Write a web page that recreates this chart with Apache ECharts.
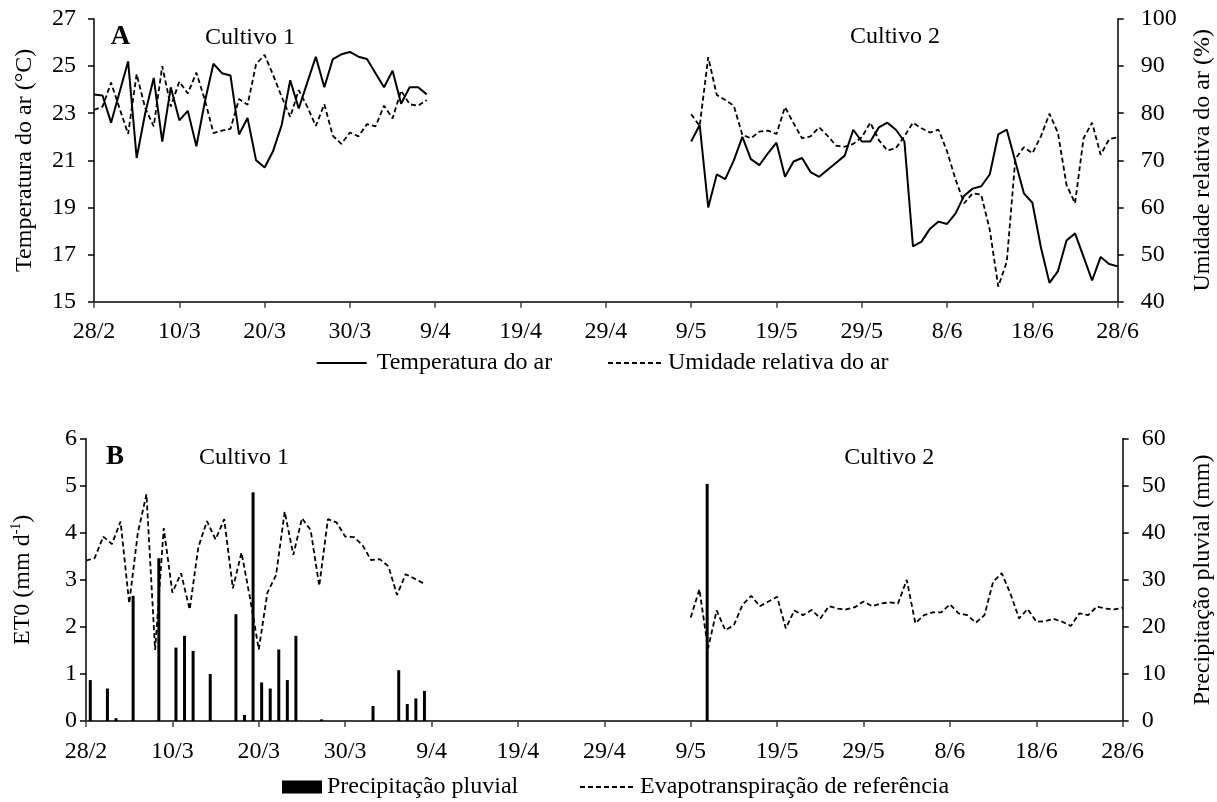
<!DOCTYPE html>
<html>
<head>
<meta charset="utf-8">
<script src="https://cdn.jsdelivr.net/npm/echarts@6/dist/echarts.min.js"></script>
<style>
  html, body { margin: 0; padding: 0; background: #fff; }
  #chart { width: 1217px; height: 802px; }
</style>
</head>
<body>
<div id="chart"></div>
<script>
// Date tick labels, one every 10 days from 28/2 to 28/6 (day 0 .. day 120)
const dateTicks = ['28/2', '10/3', '20/3', '30/3', '9/4', '19/4', '29/4', '9/5', '19/5', '29/5', '8/6', '18/6', '28/6'];
const dayCount = 121;

// First day (days after 28/2) of each growing cycle
const cycle1Start = 0;   // 28/2
const cycle2Start = 70;  // 9/5

// Air temperature (°C), daily
const tempCycle1 = [23.8, 23.75, 22.6, 23.9, 25.2, 21.1, 23.0, 24.5, 21.8, 24.1,
  22.7, 23.1, 21.6, 23.5, 25.1, 24.7, 24.6, 22.1, 22.8, 21.0,
  20.7, 21.4, 22.5, 24.4, 23.2, 24.3, 25.4, 24.1, 25.3, 25.5,
  25.6, 25.4, 25.3, 24.7, 24.1, 24.8, 23.4, 24.1, 24.1, 23.8];
const tempCycle2 = [21.8, 22.5, 19.0, 20.4, 20.2, 21.0, 22.0, 21.05, 20.8, 21.3,
  21.75, 20.3, 20.95, 21.1, 20.5, 20.3, 20.6, 20.9, 21.2, 22.3,
  21.8, 21.8, 22.4, 22.6, 22.3, 21.8, 17.35, 17.55, 18.1, 18.4,
  18.3, 18.75, 19.5, 19.8, 19.9, 20.4, 22.1, 22.3, 20.95, 19.6,
  19.2, 17.3, 15.8, 16.3, 17.6, 17.9, 16.9, 15.9, 16.9, 16.6, 16.5];

// Relative humidity (%), daily
const rhCycle1 = [80.7, 81.4, 86.5, 81.0, 75.6, 88.3, 81.1, 77.2, 90.0, 81.4,
  86.7, 84.2, 88.6, 82.8, 75.8, 76.3, 76.7, 83.0, 81.8, 90.4,
  92.4, 88.1, 83.5, 79.2, 84.9, 81.4, 77.3, 81.9, 75.2, 73.5,
  75.9, 75.1, 77.7, 77.2, 81.6, 78.9, 84.8, 81.9, 81.6, 82.8];
const rhCycle2 = [79.8, 77.3, 91.9, 83.9, 82.8, 81.6, 75.4, 74.7, 76.1, 76.3,
  75.6, 81.3, 77.9, 74.7, 75.1, 77.0, 75.2, 73.1, 72.9, 73.5,
  74.9, 78.0, 74.3, 72.1, 72.6, 75.1, 78.0, 76.8, 75.9, 76.5,
  71.9, 65.9, 60.9, 63.0, 62.7, 55.3, 43.2, 48.5, 70.3, 72.8,
  71.5, 75.1, 79.9, 75.8, 64.8, 60.9, 74.7, 78.0, 71.2, 74.5, 74.9];

// Reference evapotranspiration ET0 (mm/day), daily
const et0Cycle1 = [3.41, 3.46, 3.92, 3.76, 4.24, 2.50, 4.0, 4.82, 1.51, 4.10,
  2.73, 3.14, 2.37, 3.69, 4.25, 3.86, 4.29, 2.82, 3.58, 2.6,
  1.52, 2.73, 3.10, 4.45, 3.53, 4.31, 4.06, 2.87, 4.29, 4.22,
  3.92, 3.91, 3.74, 3.42, 3.44, 3.29, 2.68, 3.12, 3.03, 2.93];
const et0Cycle2 = [2.20, 2.80, 1.54, 2.35, 1.93, 2.04, 2.47, 2.66, 2.44, 2.54,
  2.64, 1.97, 2.35, 2.25, 2.36, 2.18, 2.44, 2.39, 2.37, 2.42,
  2.54, 2.44, 2.50, 2.52, 2.50, 3.00, 2.08, 2.25, 2.31, 2.31,
  2.48, 2.29, 2.25, 2.09, 2.25, 2.96, 3.14, 2.71, 2.18, 2.38,
  2.11, 2.12, 2.17, 2.11, 2.02, 2.29, 2.25, 2.43, 2.39, 2.37, 2.41];

// Rainfall (mm): day index after 28/2 and daily total
const rainDays = [0, 2, 3, 5, 8, 10, 11, 12, 14, 17, 18, 19, 20, 21, 22, 23, 24, 27, 33, 36, 37, 38, 39, 72];
const rainMm = [8.7, 6.9, 0.6, 26.6, 34.6, 15.6, 18.1, 14.9, 10.0, 22.7, 1.3, 48.6, 8.2, 6.9, 15.2, 8.7, 18.1, 0.35, 3.2, 10.8, 3.6, 4.8, 6.4, 50.4];

const FONT = '"Liberation Serif", "Times New Roman", serif';
const INK = '#000';
const AXIS = '#404040';
const DASH = [5, 3];

function series(start, values) {
  return values.map((v, i) => [start + i, v]);
}

const dayCategories = Array.from({ length: dayCount }, (_, i) => String(i));

// Legend swatches: a plain stroke and a row of short dashes
const solidIcon = 'path://M0,0h50v2h-50z';
let dashedIcon = 'path://';
for (let i = 0; i < 7; i++) dashedIcon += 'M' + (i * 8) + ',0h5v2h-5z';

const tickText = { color: INK, fontFamily: FONT, fontSize: 24 };
const nameText = { color: INK, fontFamily: FONT, fontSize: 24 };

function dateAxis(gridIndex, margin) {
  return {
    type: 'value', gridIndex, min: 0, max: 120, interval: 10,
    axisLine: { lineStyle: { color: AXIS, width: 2 } },
    axisTick: { length: 6, lineStyle: { color: AXIS, width: 1.5 } },
    axisLabel: Object.assign({ margin, formatter: v => dateTicks[Math.round(v / 10)] }, tickText),
    splitLine: { show: false }
  };
}

function valueAxis(opts) {
  return Object.assign({
    type: 'value',
    nameLocation: 'middle',
    nameRotate: 90,
    nameTextStyle: nameText,
    axisLine: { show: true, lineStyle: { color: INK, width: 1.5 } },
    axisTick: { show: true, length: 6, lineStyle: { color: INK, width: 1.5 } },
    splitLine: { show: false }
  }, opts, { axisLabel: Object.assign({}, tickText, opts.axisLabel || {}) });
}

const solid = { color: INK, width: 2, type: 'solid' };
const dashed = { color: INK, width: 1.8, type: DASH };

function lineSeries(name, xAxisIndex, yAxisIndex, data, lineStyle) {
  return {
    name, type: 'line', xAxisIndex, yAxisIndex, data,
    symbol: 'none', lineStyle, itemStyle: { color: INK }, silent: true
  };
}

function legend(name, left, top, icon, width, height, textPad) {
  return {
    data: [{ name, icon }], left, top, padding: 0,
    itemWidth: width, itemHeight: height,
    itemStyle: { color: INK, borderWidth: 0 },
    textStyle: { color: INK, fontFamily: FONT, fontSize: 24, lineHeight: 26, padding: [0, 0, 0, textPad] },
    selectedMode: false
  };
}

function label(text, x, y, bold) {
  return {
    type: 'text', x, y,
    style: {
      text, fill: INK,
      font: (bold ? 'bold 27px ' : '24px ') + FONT,
      align: 'left', verticalAlign: 'middle'
    }
  };
}

const option = {
  animation: false,
  backgroundColor: '#fff',
  grid: [
    { left: 94, top: 19, right: 99.3, bottom: 500.3, outerBoundsMode: 'none', containLabel: false },
    { left: 86, top: 438.7, right: 94.3, bottom: 81, outerBoundsMode: 'none', containLabel: false }
  ],
  xAxis: [
    dateAxis(0, 18),
    dateAxis(1, 19),
    { type: 'category', gridIndex: 1, data: dayCategories, boundaryGap: true, show: false }
  ],
  yAxis: [
    valueAxis({ gridIndex: 0, position: 'left', min: 15, max: 27, interval: 2,
      name: 'Temperatura do ar (°C)', nameGap: 57, axisLabel: { margin: 18 } }),
    valueAxis({ gridIndex: 0, position: 'right', min: 40, max: 100, interval: 10,
      name: 'Umidade relativa do ar (%)', nameGap: 73, axisLabel: { margin: 23 } }),
    valueAxis({ gridIndex: 1, position: 'left', min: 0, max: 6, interval: 1,
      name: 'ET0 (mm d{sup|-1})', nameGap: 49,
      nameTextStyle: Object.assign({}, nameText, {
        lineHeight: 28,
        rich: { sup: { fontFamily: FONT, fontSize: 14, lineHeight: 16, verticalAlign: 'top', color: INK } }
      }),
      axisLabel: { margin: 9 } }),
    valueAxis({ gridIndex: 1, position: 'right', min: 0, max: 60, interval: 10,
      name: 'Precipitação pluvial (mm)', nameGap: 68, axisLabel: { margin: 19 } })
  ],
  legend: [
    legend('Temperatura do ar', 316.7, 350, solidIcon, 50, 2, 5),
    legend('Umidade relativa do ar', 608, 350, dashedIcon, 53, 2, 2),
    legend('Precipitação pluvial', 282, 774, 'rect', 40, 13, 0),
    legend('Evapotranspiração de referência', 580, 774, dashedIcon, 53, 2, 2)
  ],
  graphic: [
    label('A', 110.7, 36.7, true),
    label('Cultivo 1', 205, 37.7),
    label('Cultivo 2', 850, 37),
    label('B', 106, 457.5, true),
    label('Cultivo 1', 199, 458),
    label('Cultivo 2', 844.3, 458)
  ],
  series: [
    lineSeries('Temperatura do ar', 0, 0, series(cycle1Start, tempCycle1), solid),
    lineSeries('Temperatura do ar', 0, 0, series(cycle2Start, tempCycle2), solid),
    lineSeries('Umidade relativa do ar', 0, 1, series(cycle1Start, rhCycle1), dashed),
    lineSeries('Umidade relativa do ar', 0, 1, series(cycle2Start, rhCycle2), dashed),
    {
      name: 'Precipitação pluvial', type: 'bar', xAxisIndex: 2, yAxisIndex: 3,
      data: rainDays.map((d, i) => [d, rainMm[i]]),
      barWidth: 3, itemStyle: { color: INK }, silent: true
    },
    lineSeries('Evapotranspiração de referência', 1, 2, series(cycle1Start, et0Cycle1), dashed),
    lineSeries('Evapotranspiração de referência', 1, 2, series(cycle2Start, et0Cycle2), dashed)
  ]
};

const chart = echarts.init(document.getElementById('chart'), null, { renderer: 'canvas' });
chart.setOption(option);
</script>
</body>
</html>
